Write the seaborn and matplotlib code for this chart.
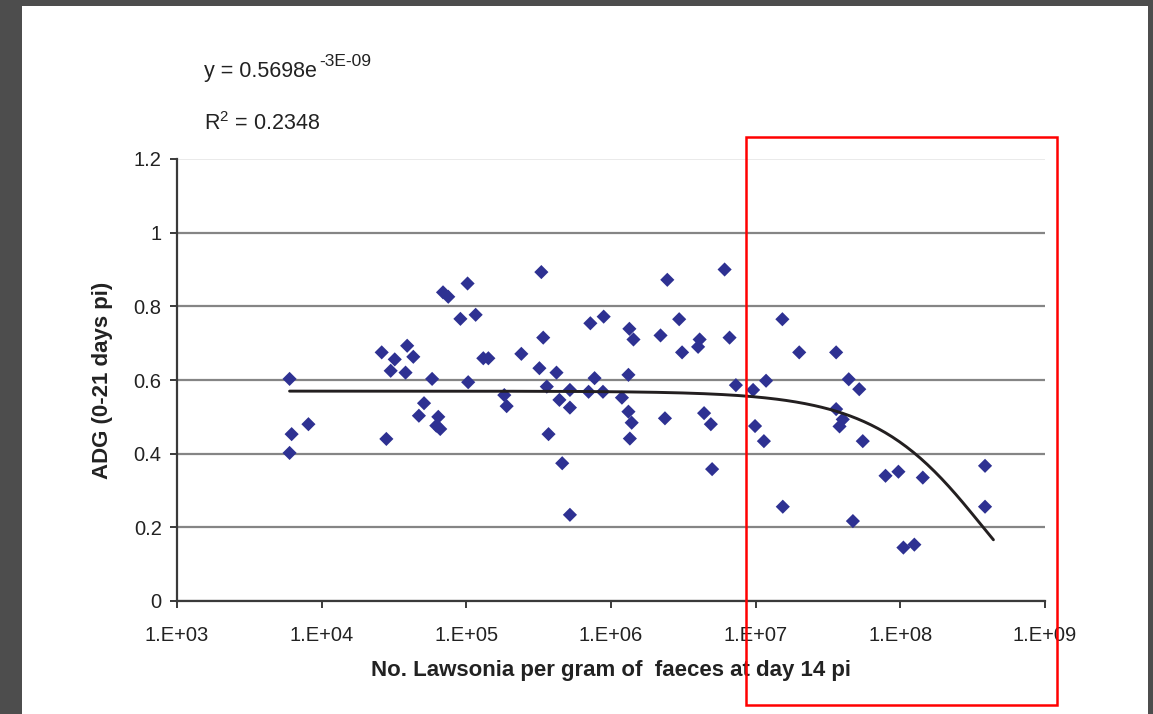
import numpy as np
import pandas as pd
import matplotlib
matplotlib.use("Agg")
import matplotlib.pyplot as plt
from matplotlib.patches import Rectangle
import seaborn as sns

# ---- data ----
lawsonia_per_g = [
    6.0e3, 6.2e3, 6.0e3, 8.1e3,
    2.6e4, 3.2e4, 3.0e4, 3.9e4, 4.3e4, 3.8e4, 5.8e4, 5.1e4, 4.7e4, 6.4e4, 6.2e4, 6.6e4, 2.8e4,
    6.9e4, 7.5e4, 1.02e5, 9.1e4, 1.03e5, 3.3e5, 2.45e6, 6.1e6, 1.16e5,
    7.2e5, 8.9e5, 1.34e6, 1.43e6, 2.2e6, 2.96e6, 4.1e6, 4.0e6, 6.6e6, 3.1e6, 3.4e5,
    1.31e5, 1.42e5, 2.4e5, 3.2e5, 4.2e5, 7.7e5, 1.32e6,
    1.83e5, 1.9e5, 3.6e5, 5.2e5, 4.4e5, 7.0e5, 8.8e5, 1.19e6, 5.2e5, 1.32e6, 1.39e6, 1.35e6,
    2.36e6, 4.4e6, 4.9e6, 7.3e6, 3.7e5, 4.6e5, 5.0e6, 5.2e5,
    9.6e6, 9.9e6, 1.53e7, 2.0e7, 3.6e7, 1.18e7, 4.4e7, 5.2e7, 3.6e7, 4.0e7, 3.8e7, 1.14e7,
    5.5e7, 7.9e7, 9.7e7, 1.43e8, 3.85e8, 1.54e7, 4.7e7, 1.05e8, 1.25e8, 3.85e8,
]
adg = [
    0.603, 0.453, 0.402, 0.480,
    0.675, 0.656, 0.625, 0.693, 0.663, 0.620, 0.603, 0.537, 0.503, 0.500, 0.476, 0.467, 0.440,
    0.838, 0.826, 0.862, 0.766, 0.594, 0.893, 0.872, 0.900, 0.777,
    0.754, 0.772, 0.739, 0.710, 0.721, 0.765, 0.710, 0.690, 0.715, 0.675, 0.715,
    0.659, 0.659, 0.671, 0.632, 0.620, 0.605, 0.614,
    0.559, 0.529, 0.582, 0.573, 0.546, 0.568, 0.568, 0.552, 0.525, 0.514, 0.484, 0.441,
    0.496, 0.510, 0.480, 0.586, 0.453, 0.374, 0.358, 0.234,
    0.573, 0.475, 0.765, 0.675, 0.675, 0.598, 0.602, 0.575, 0.521, 0.493, 0.474, 0.434,
    0.434, 0.340, 0.351, 0.335, 0.367, 0.256, 0.217, 0.145, 0.153, 0.256,
]

# exponential trendline (as drawn in the reference)
trend_a = 0.5698
trend_k = 2.8e-9
trend_x_start = 6.0e3
trend_x_end = 4.4e8

y_ticks = [0, 0.2, 0.4, 0.6, 0.8, 1.0, 1.2]
x_ticks = [1e3, 1e4, 1e5, 1e6, 1e7, 1e8, 1e9]
x_tick_labels = ["1.E+03", "1.E+04", "1.E+05", "1.E+06", "1.E+07", "1.E+08", "1.E+09"]

equation_main = "y = 0.5698e"
equation_sup = "-3E-09"
r2_text = r"R$^{\mathregular{2}}$ = 0.2348"
x_label = "No. Lawsonia per gram of  faeces at day 14 pi"
y_label = "ADG (0-21 days pi)"

# ---- styling ----
sns.set_theme(style="white")
plt.rcParams["font.family"] = ["Liberation Sans", "DejaVu Sans"]
plt.rcParams["mathtext.default"] = "regular"

W, H = 1153, 714
fig = plt.figure(figsize=(W / 100, H / 100), dpi=100)
fig.patch.set_facecolor("white")

ax = fig.add_axes([177 / W, 1 - 601 / H, (1045 - 177) / W, (601 - 159) / H])

df = pd.DataFrame({"x": lawsonia_per_g, "y": adg})
sns.scatterplot(data=df, x="x", y="y", marker="D", s=52, color="#2E3192",
                edgecolor="none", ax=ax, zorder=3)

tx = np.geomspace(trend_x_start, trend_x_end, 300)
tdf = pd.DataFrame({"x": tx, "y": trend_a * np.exp(-trend_k * tx)})
sns.lineplot(data=tdf, x="x", y="y", color="#231F20", linewidth=2.1, ax=ax, zorder=4)

ax.set_xscale("log")
ax.set_xlim(1e3, 1e9)
ax.set_ylim(0, 1.2)
ax.set_xticks(x_ticks)
ax.set_xticklabels(x_tick_labels)
ax.minorticks_off()
ax.set_yticks(y_ticks)
ax.set_yticklabels([f"{v:g}" for v in y_ticks])

ax.yaxis.grid(True, color="#858585", linewidth=1.6)
ax.xaxis.grid(False)
ax.set_axisbelow(True)
glines = ax.get_ygridlines()
glines[-1].set_color("#e6e6e6")
glines[-1].set_linewidth(1.2)

for side in ["top", "right"]:
    ax.spines[side].set_visible(False)
for side in ["left", "bottom"]:
    ax.spines[side].set_color("#3a3a3a")
    ax.spines[side].set_linewidth(1.6)

ax.tick_params(axis="both", direction="out", length=5, width=1.4, color="#3a3a3a",
               labelsize=14.5, labelcolor="#222222", left=True, bottom=True)
ax.tick_params(axis="x", pad=13)
ax.tick_params(axis="y", pad=6)

ax.set_xlabel(x_label, fontsize=16, fontweight="bold", color="#222222", labelpad=11)
ax.set_ylabel(y_label, fontsize=16, fontweight="bold", color="#222222", labelpad=15)

t_main = fig.text(204 / W, 1 - 77 / H, equation_main, fontsize=15.5, color="#222222",
                  va="baseline", ha="left")
fig.canvas.draw()
bb = t_main.get_window_extent()
fig.text((bb.x1 + 2) / W, 1 - 66 / H, equation_sup, fontsize=12.5, color="#222222",
         va="baseline", ha="left")
fig.text(204 / W, 1 - 130 / H, r2_text, fontsize=15.5, color="#222222",
         va="baseline", ha="left")

# frame of the screenshot
gray = "#4d4d4d"
fig.patches.append(Rectangle((0, 1 - 6 / H), 1, 6 / H, transform=fig.transFigure,
                             facecolor=gray, edgecolor="none", zorder=10))
fig.patches.append(Rectangle((0, 0), 22 / W, 1, transform=fig.transFigure,
                             facecolor=gray, edgecolor="none", zorder=10))
fig.patches.append(Rectangle((1148 / W, 0), 5 / W, 1, transform=fig.transFigure,
                             facecolor=gray, edgecolor="none", zorder=10))
# red highlight box
fig.patches.append(Rectangle((746 / W, 1 - 705 / H), (1057 - 746) / W, (705 - 137) / H,
                             transform=fig.transFigure, facecolor="none",
                             edgecolor="#ff0000", linewidth=1.8, zorder=11))

fig.savefig("out.png", dpi=100)
